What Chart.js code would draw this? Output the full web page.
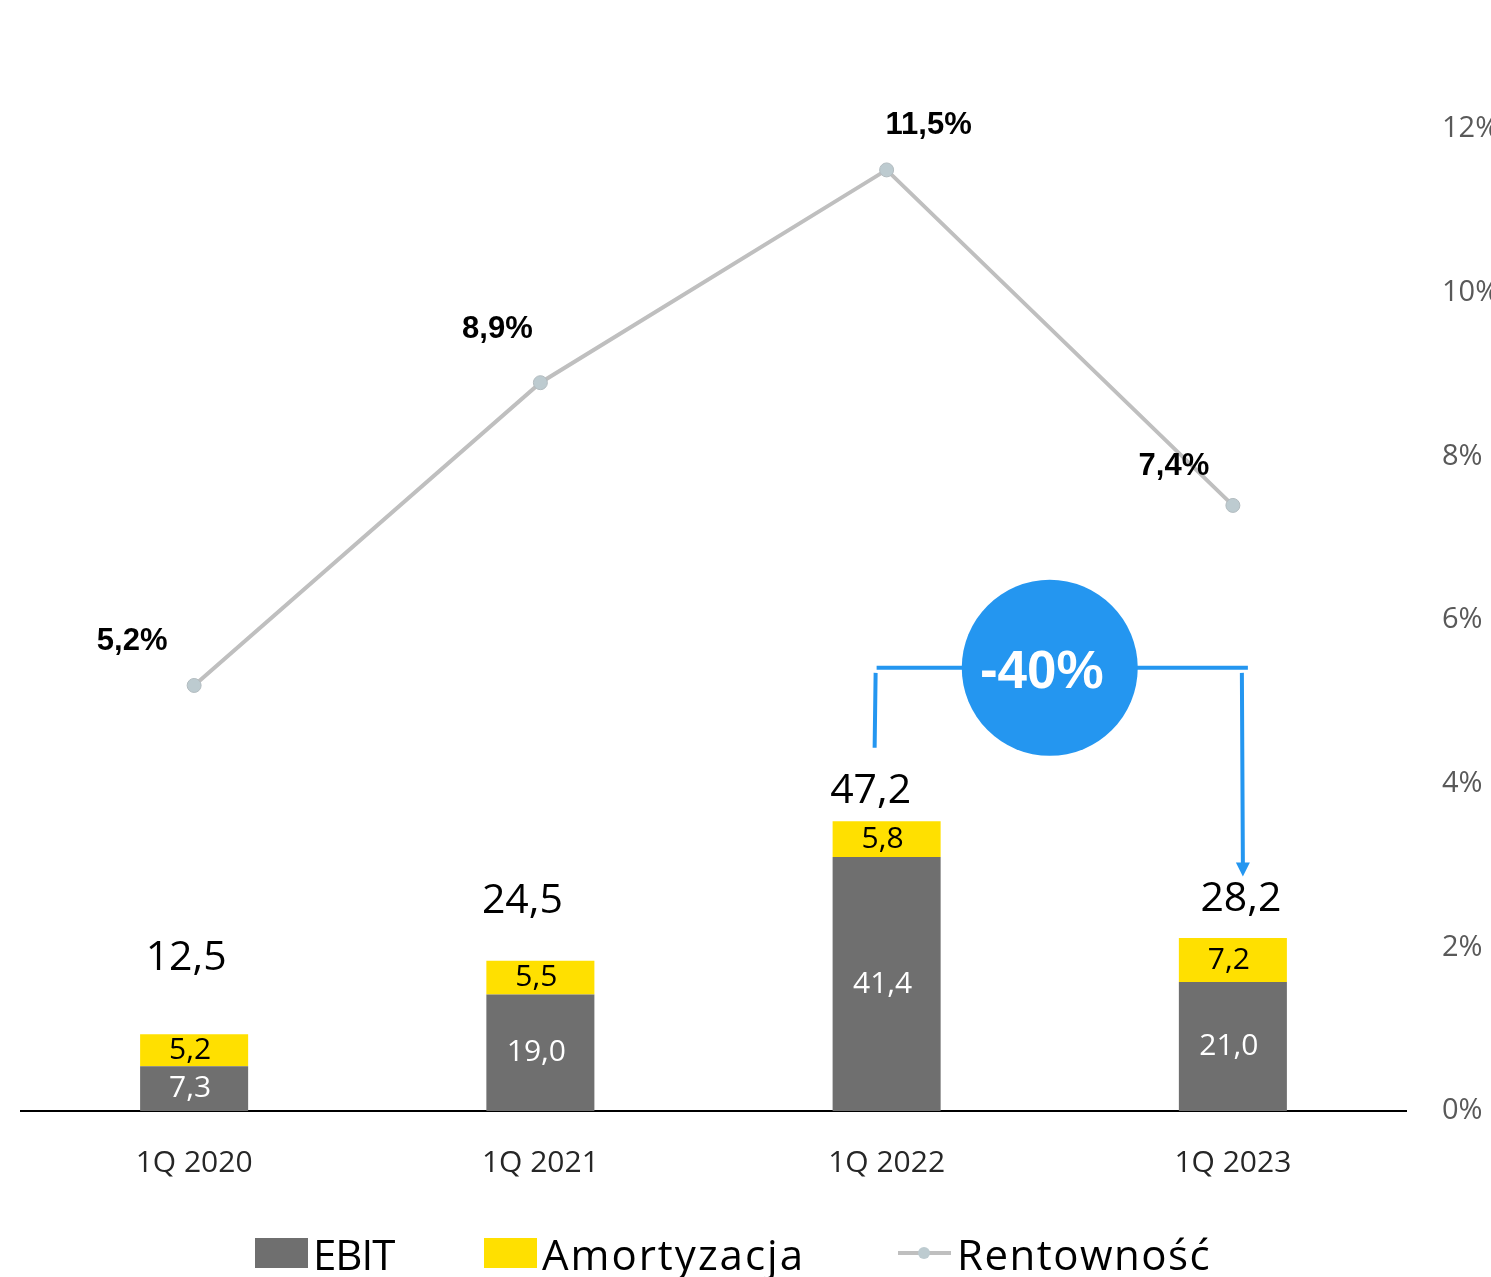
<!DOCTYPE html>
<html><head><meta charset="utf-8">
<script src="https://cdn.jsdelivr.net/npm/chart.js@4"></script>
<style>
html,body{margin:0;padding:0;background:#fff;overflow:hidden}
#wrap{position:relative;width:1491px;height:1277px}
#legend{position:absolute;left:0;top:1226px;width:1491px;height:54px;font-family:"Open Sans",sans-serif;font-size:42px;color:#000;letter-spacing:1px}
.item{position:absolute;top:0;display:flex;align-items:center;height:54px;white-space:nowrap}
.box{width:53px;height:30px;margin-right:5px}
.ln{width:53px;height:30px;margin-right:6px;position:relative}
.ln:before{content:"";position:absolute;left:0;right:0;top:13px;height:4px;background:#BFBFBF}
.ln:after{content:"";position:absolute;left:20px;top:9px;width:12px;height:12px;border-radius:50%;background:#BDCBD0}
</style></head>
<body><div id="wrap"><canvas id="c" width="1491" height="1277"></canvas>
<div id="legend">
<div class="item" style="left:255px;letter-spacing:-1px"><div class="box" style="background:#6F6F6F"></div>EBIT</div>
<div class="item" style="left:484px;letter-spacing:2px"><div class="box" style="background:#FFE000"></div>Amortyzacja</div>
<div class="item" style="left:898px;letter-spacing:1.5px"><div class="ln"></div>Rentowność</div>
</div></div>
<script>
const categories = ['1Q 2020','1Q 2021','1Q 2022','1Q 2023'];
const ebit = [7.3, 19.0, 41.4, 21.0];
const amortyzacja = [5.2, 5.5, 5.8, 7.2];
const totals = [12.5, 24.5, 47.2, 28.2];
const rentownosc = [5.2, 8.9, 11.5, 7.4];
const pctTicks = [0, 2, 4, 6, 8, 10, 12];
const changeLabel = '-40%';

const fmt = v => v.toFixed(1).replace('.', ',');
const SANS = '"Open Sans", sans-serif';
const BOLD = '"Liberation Sans", Arial, sans-serif';

const totalOffsets = [[-8, -76], [-18, -59], [-16, -30], [8, -39]];
const lineOffsets = [[-62, -44], [-43, -53], [42, -44], [-59, -39]];

const labelPlugin = {
  id: 'labels',
  afterDatasetsDraw(chart) {
    const ctx = chart.ctx;
    const x = chart.scales.x, y = chart.scales.y;
    ctx.save();
    ctx.textAlign = 'center';
    ctx.textBaseline = 'middle';
    const m0 = chart.getDatasetMeta(0), m1 = chart.getDatasetMeta(1), m2 = chart.getDatasetMeta(2);
    categories.forEach((c, i) => {
      const b0 = m0.data[i], b1 = m1.data[i];
      ctx.font = '30px ' + SANS;
      ctx.fillStyle = '#FFFFFF';
      ctx.fillText(fmt(ebit[i]), b0.x - 4, (b0.y + b0.base) / 2);
      ctx.fillStyle = '#000000';
      ctx.fillText(fmt(amortyzacja[i]), b1.x - 4, (b1.y + b1.base) / 2);
      ctx.font = '41px ' + SANS;
      ctx.fillText(fmt(totals[i]), b1.x + totalOffsets[i][0], b1.y + totalOffsets[i][1]);
      const p = m2.data[i];
      ctx.font = 'bold 31px ' + BOLD;
      ctx.fillText(fmt(rentownosc[i]) + '%', p.x + lineOffsets[i][0], p.y + lineOffsets[i][1]);
    });
    // change annotation between 1Q 2022 and 1Q 2023
    const blue = '#2496F0';
    const xa = x.getPixelForValue(2) - 10, xb = x.getPixelForValue(3) + 10;
    const yh = y.getPixelForValue(Math.max(...totals) + 25);
    const ya = y.getPixelForValue(totals[2] + 12);
    const yb = y.getPixelForValue(totals[3] + 10);
    ctx.strokeStyle = blue; ctx.lineWidth = 4;
    ctx.beginPath();
    ctx.moveTo(xa, yh); ctx.lineTo(xb + 5, yh);
    ctx.moveTo(xa - 1, yh + 5); ctx.lineTo(xa - 2, ya);
    ctx.moveTo(xb - 1, yh + 5); ctx.lineTo(xb, yb - 12);
    ctx.stroke();
    ctx.fillStyle = blue;
    ctx.beginPath();
    ctx.moveTo(xb - 7, yb - 14); ctx.lineTo(xb + 7, yb - 14); ctx.lineTo(xb, yb); ctx.closePath(); ctx.fill();
    const cx = (xa + xb) / 2 - 10;
    ctx.beginPath(); ctx.arc(cx, yh, 88, 0, Math.PI * 2); ctx.fill();
    ctx.fillStyle = '#FFFFFF';
    ctx.font = 'bold 53px ' + BOLD;
    ctx.fillText(changeLabel, cx - 8, yh + 6);
    ctx.restore();
  }
};

new Chart(document.getElementById('c'), {
  data: {
    labels: categories,
    datasets: [
      { type: 'bar', label: 'EBIT', data: ebit, backgroundColor: '#6F6F6F', stack: 's', yAxisID: 'y', order: 2, barPercentage: 0.312, categoryPercentage: 1 },
      { type: 'bar', label: 'Amortyzacja', data: amortyzacja, backgroundColor: '#FFE000', stack: 's', yAxisID: 'y', order: 2, barPercentage: 0.312, categoryPercentage: 1 },
      { type: 'line', label: 'Rentowność', data: rentownosc, yAxisID: 'y1', order: 0, borderColor: '#BFBFBF', borderWidth: 4, pointRadius: 7, pointBackgroundColor: '#BDCBD0', pointBorderColor: '#B3BCC0', pointBorderWidth: 1, tension: 0 }
    ]
  },
  options: {
    responsive: false, animation: false,
    layout: { padding: { top: 129, left: 21, right: 0, bottom: 62 } },
    plugins: { legend: { display: false }, tooltip: { enabled: false } },
    scales: {
      x: {
        stacked: true,
        grid: { display: false, drawTicks: false },
        border: { display: true, color: '#000000', width: 2 },
        ticks: { color: '#262626', font: { family: SANS, size: 30 }, padding: 34 }
      },
      y: { stacked: true, display: false, min: 0, max: 160 },
      y1: {
        position: 'right', min: 0, max: 12,
        afterBuildTicks: s => { s.ticks = pctTicks.map(v => ({ value: v })); },
        afterFit: s => { s.width = 85; },
        grid: { display: false, drawTicks: false },
        border: { display: false },
        ticks: { color: '#595959', font: { family: SANS, size: 29 }, padding: 36, callback: v => v + '%' }
      }
    }
  },
  plugins: [labelPlugin]
});
</script></body></html>
